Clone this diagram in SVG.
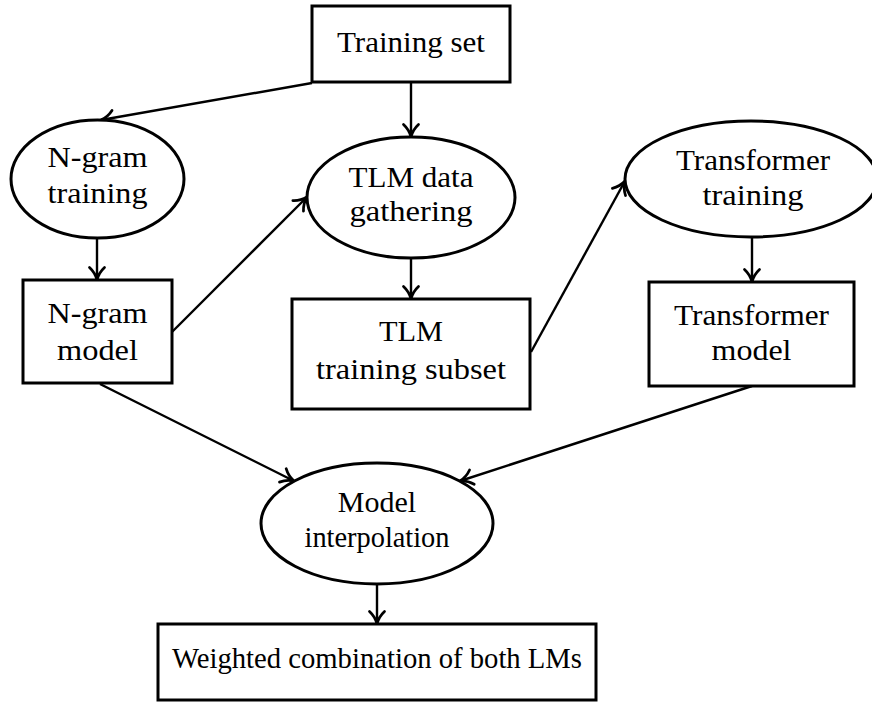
<svg xmlns="http://www.w3.org/2000/svg" width="872" height="702" viewBox="0 0 872 702">
  <style>
    .box { fill: #ffffff; stroke: #000000; stroke-width: 3; }
    .oval { fill: #ffffff; stroke: #000000; stroke-width: 3; }
    .label { font-family: "Liberation Serif", "DejaVu Serif", serif; font-size: 30px; fill: #000000; text-anchor: middle; }
    .edge { fill: none; stroke: #000000; stroke-width: 2.4; marker-end: url(#tip); }
  </style>
  <defs>
    <marker id="tip" markerUnits="userSpaceOnUse" orient="auto" markerWidth="20" markerHeight="20" refX="0" refY="0" viewBox="-12 -8 14 16" overflow="visible">
      <path d="M-10,-6 C-6.5,-2.2 -2,-0.5 0,0 C-2,0.5 -6.5,2.2 -10,6" fill="none" stroke="#000000" stroke-width="2.2" stroke-linecap="round"/>
    </marker>
  </defs>
  <rect width="872" height="702" fill="#ffffff"/>

  <!-- connectors -->
  <g id="connectors">
    <line class="edge" x1="312" y1="83" x2="101" y2="120"/>
    <line class="edge" x1="411" y1="82" x2="411" y2="137"/>
    <line class="edge" x1="97" y1="238" x2="97" y2="280"/>
    <line class="edge" x1="172" y1="332" x2="307" y2="197"/>
    <line class="edge" x1="411" y1="258" x2="411" y2="299"/>
    <line class="edge" x1="531" y1="352" x2="625" y2="181"/>
    <line class="edge" x1="752" y1="237" x2="752" y2="282"/>
    <line class="edge" x1="100" y1="384" x2="294" y2="481"/>
    <line class="edge" x1="752" y1="386" x2="460" y2="481"/>
    <line class="edge" x1="377" y1="584" x2="377" y2="624"/>
  </g>

  <g id="training-set">
    <rect class="box" x="312" y="6" width="198" height="76"/>
    <text class="label" x="411" y="52" textLength="148" lengthAdjust="spacingAndGlyphs">Training set</text>
  </g>

  <g id="ngram-training">
    <ellipse class="oval" cx="97.5" cy="179" rx="86.5" ry="59"/>
    <text class="label" x="97.5" y="167" textLength="100" lengthAdjust="spacingAndGlyphs">N-gram</text>
    <text class="label" x="97.5" y="203" textLength="100" lengthAdjust="spacingAndGlyphs">training</text>
  </g>

  <g id="tlm-data-gathering">
    <ellipse class="oval" cx="411" cy="197.5" rx="104" ry="60.5"/>
    <text class="label" x="411" y="187" textLength="125" lengthAdjust="spacingAndGlyphs">TLM data</text>
    <text class="label" x="411" y="221" textLength="123" lengthAdjust="spacingAndGlyphs">gathering</text>
  </g>

  <g id="transformer-training">
    <ellipse class="oval" cx="751" cy="179" rx="126" ry="58"/>
    <text class="label" x="753" y="170" textLength="154" lengthAdjust="spacingAndGlyphs">Transformer</text>
    <text class="label" x="753" y="205" textLength="101" lengthAdjust="spacingAndGlyphs">training</text>
  </g>

  <g id="ngram-model">
    <rect class="box" x="23" y="280" width="149" height="103"/>
    <text class="label" x="97.5" y="323" textLength="100" lengthAdjust="spacingAndGlyphs">N-gram</text>
    <text class="label" x="97.5" y="360" textLength="81" lengthAdjust="spacingAndGlyphs">model</text>
  </g>

  <g id="tlm-training-subset">
    <rect class="box" x="292" y="299" width="238" height="110"/>
    <text class="label" x="411" y="341" textLength="64" lengthAdjust="spacingAndGlyphs">TLM</text>
    <text class="label" x="411" y="379" textLength="190" lengthAdjust="spacingAndGlyphs">training subset</text>
  </g>

  <g id="transformer-model">
    <rect class="box" x="649" y="282" width="205" height="104"/>
    <text class="label" x="751.5" y="325" textLength="155" lengthAdjust="spacingAndGlyphs">Transformer</text>
    <text class="label" x="751.5" y="360" textLength="80" lengthAdjust="spacingAndGlyphs">model</text>
  </g>

  <g id="model-interpolation">
    <ellipse class="oval" cx="377" cy="523.5" rx="116" ry="60.5"/>
    <text class="label" x="377" y="512">Model</text>
    <text class="label" x="377" y="547" textLength="145" lengthAdjust="spacingAndGlyphs">interpolation</text>
  </g>

  <g id="weighted-combination">
    <rect class="box" x="158" y="624" width="438" height="76"/>
    <text class="label" x="377" y="668" textLength="410" lengthAdjust="spacingAndGlyphs">Weighted combination of both LMs</text>
  </g>
</svg>
